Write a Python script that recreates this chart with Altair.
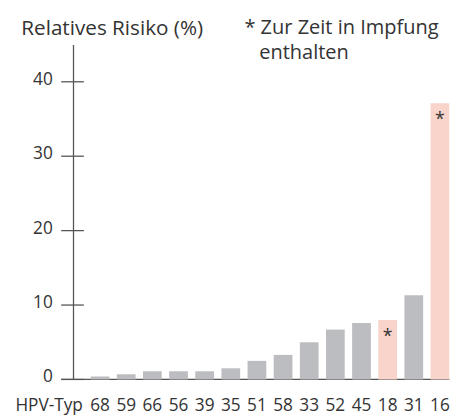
import altair as alt
import pandas as pd

# ---- data ----
hpv_types = ["68", "59", "66", "56", "39", "35", "51", "58", "33", "52", "45", "18", "31", "16"]
risk_pct = [0.4, 0.7, 1.1, 1.1, 1.1, 1.5, 2.5, 3.3, 5.0, 6.7, 7.6, 8.0, 11.3, 37.1]
in_vaccine = [False, False, False, False, False, False, False, False, False, False, False, True, False, True]
y_tick_values = [0, 10, 20, 30, 40]
y_title = "Relatives Risiko (%)"
x_title = "HPV-Typ"
note_line1 = "* Zur Zeit in Impfung"
note_line2 = "enthalten"

df = pd.DataFrame({
    "typ": hpv_types,
    "risiko": risk_pct,
    "impf": ["ja" if v else "nein" for v in in_vaccine],
})
ticks_df = pd.DataFrame({"risiko": y_tick_values})
base_df = pd.DataFrame({"risiko": [0]})

NUMF = "Open Sans, Noto Sans, sans-serif"
SANS = "Open Sans, Noto Sans, sans-serif"
TXT = "#333333"
AXC = "#555555"
NUMSIZE = 17.5

y_scale = alt.Scale(domain=[0, 45], nice=False, zero=True)
y_axis = alt.Axis(
    title=y_title, titleAngle=0, titleX=-53, titleY=-10, titleAlign="left",
    titleBaseline="alphabetic", titleFont=SANS, titleFontSize=21,
    titleFontWeight="normal", titleColor=TXT,
    values=y_tick_values, labelFont=NUMF, labelFontSize=NUMSIZE, labelColor=TXT,
    labelAlign="right", labelBaseline="alphabetic", labelOffset=2.5,
    labelPadding=21, ticks=False, tickSize=0, grid=False,
    domainColor=AXC, domainWidth=1.3,
)
x_axis = alt.Axis(
    title=x_title, titleX=-59, titleY=32, titleAlign="left",
    titleBaseline="alphabetic", titleFont=NUMF, titleFontSize=NUMSIZE,
    titleFontWeight="normal", titleColor=TXT,
    labelFont=NUMF, labelFontSize=NUMSIZE, labelColor=TXT, labelAngle=0,
    labelBaseline="alphabetic", labelPadding=32, ticks=False, tickSize=0,
    domain=False, grid=False,
)
x_enc = alt.X("typ:N", sort=hpv_types,
              scale=alt.Scale(paddingInner=0.284, paddingOuter=0.678),
              axis=x_axis)
y_enc = alt.Y("risiko:Q", scale=y_scale, axis=y_axis)

baseline = alt.Chart(base_df).mark_rule(color=AXC, strokeWidth=1.3).encode(
    y=y_enc, x=alt.value(-12), x2=alt.value(382)
)
yticks = alt.Chart(ticks_df).mark_rule(color=AXC, strokeWidth=1.3).encode(
    y=y_enc, x=alt.value(-12), x2=alt.value(11)
)
bars = alt.Chart(df).mark_bar().encode(
    x=x_enc, y=y_enc,
    color=alt.Color("impf:N",
                    scale=alt.Scale(domain=["nein", "ja"], range=["#bcbdc1", "#f9d4ca"]),
                    legend=None),
)
stars = alt.Chart(df).transform_filter(alt.datum.impf == "ja").mark_text(
    text="*", font=SANS, fontSize=18, baseline="alphabetic", dy=22, color=TXT
).encode(x=x_enc, y=y_enc)

note1 = alt.Chart(pd.DataFrame({"t": [note_line1]})).mark_text(
    align="left", baseline="alphabetic", font=SANS, fontSize=20.3, color=TXT
).encode(text="t:N", x=alt.value(174), y=alt.value(-10.3))
note2 = alt.Chart(pd.DataFrame({"t": [note_line2]})).mark_text(
    align="left", baseline="alphabetic", font=SANS, fontSize=20.3, color=TXT
).encode(text="t:N", x=alt.value(189), y=alt.value(14.7))

chart = alt.layer(baseline, yticks, bars, stars, note1, note2).properties(
    width=400, height=340,
    autosize=alt.AutoSizeParams(type="none"),
    padding={"left": 66, "top": 34, "right": 0, "bottom": 36},
    background="white",
).configure_view(stroke=None)

chart.save("out.html", embed_options={"renderer": "svg", "actions": False})
